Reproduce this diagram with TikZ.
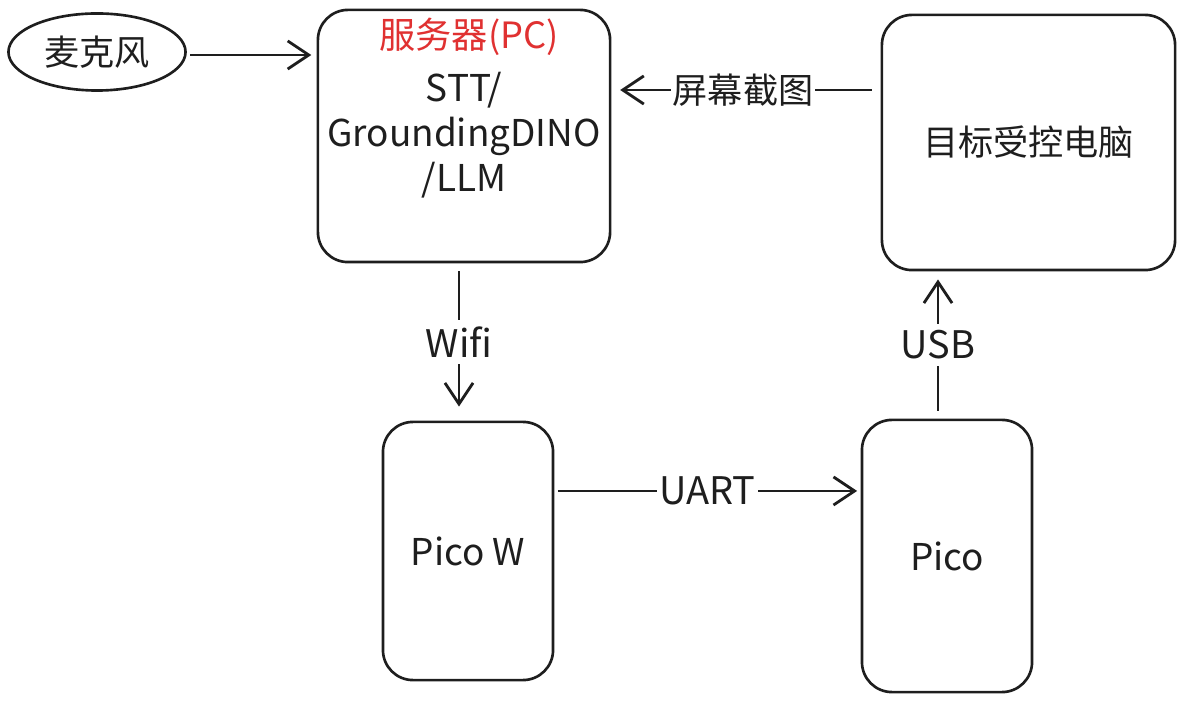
\documentclass[tikz,border=0pt]{standalone}
\usepackage{fontspec}
\setmainfont{Noto Sans CJK SC}
\usetikzlibrary{arrows.meta,shapes.geometric}
\definecolor{exred}{RGB}{224,49,49}
\definecolor{ink}{RGB}{30,30,30}
\tikzset{
  box/.style={draw=ink,line width=0.75pt,rounded corners=0.3cm,inner sep=0pt},
  conn/.style={draw=ink,line width=0.8pt,-{Straight Barb[length=6pt,width=8pt,line width=0.8pt]}},
  lbl/.style={fill=white,inner sep=0.6pt,text=ink,font=\fontsize{10.8pt}{12pt}\selectfont},
  cjk/.style={text=ink,font=\fontsize{10pt}{12pt}\selectfont},
  latin/.style={text=ink,font=\fontsize{10.5pt}{12.8pt}\selectfont}
}
\begin{document}
\begin{tikzpicture}[x=0.01cm,y=-0.01cm]
\useasboundingbox (0,0) rectangle (1185,707);
% nodes
\node[draw=ink,line width=0.75pt,ellipse,minimum width=1.77cm,minimum height=0.77cm,inner sep=0pt,cjk] (mic) at (97,52) {麦克风};
\node[box,minimum width=2.92cm,minimum height=2.52cm] (server) at (464,136) {};
\node[text=exred,font=\fontsize{10.3pt}{12pt}\selectfont] (title) at (469,37) {服务器(PC)};
\node[latin,align=center] (srvtext) at (464,135) {STT/\\GroundingDINO\\/LLM};
\node[box,minimum width=2.93cm,minimum height=2.55cm,cjk] (target) at (1028.5,142.5) {目标受控电脑};
\node[box,minimum width=1.70cm,minimum height=2.58cm,latin] (picow) at (468,551) {Pico W};
\node[box,minimum width=1.70cm,minimum height=2.72cm,latin] (pico) at (947,556) {Pico};
% helper coordinates
\coordinate (sy) at (0,90);
\coordinate (my) at (0,55);
\coordinate (uy) at (0,491);
\coordinate (ux) at (938,0);
\coordinate (wx) at (459,0);
% connectors
\draw[conn,shorten <=1pt,shorten >=1.5pt] (mic.east |- my) -- (server.west |- my);
\draw[conn,shorten <=2.5pt,shorten >=2.5pt] (target.west |- sy) -- node[lbl,font=\fontsize{10pt}{12pt}\selectfont,xshift=-0.03cm] (shot) {屏幕截图} (server.east |- sy);
\draw[conn,shorten <=2.3pt,shorten >=4pt] (server.south -| wx) -- node[lbl,inner sep=2pt] (wifi) {Wifi} (picow.north -| wx);
\draw[conn,shorten <=1pt,shorten >=1pt] (picow.east |- uy) -- node[lbl] (uart) {UART} (pico.west |- uy);
\draw[conn,shorten <=2.3pt,shorten >=2.3pt] (pico.north -| ux) -- node[lbl,inner sep=2pt] (usb) {USB} (target.south -| ux);
\end{tikzpicture}
\end{document}
